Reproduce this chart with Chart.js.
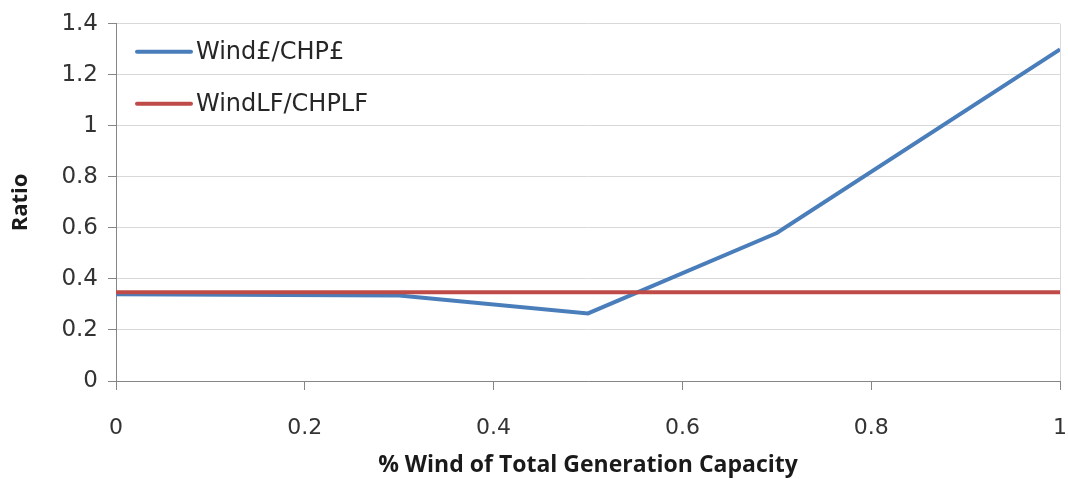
<!DOCTYPE html>
<html>
<head>
<meta charset="utf-8">
<script src="https://cdn.jsdelivr.net/npm/chart.js@4/dist/chart.umd.min.js"></script>
<style>
html,body{margin:0;padding:0;background:#fff}
#wrap{width:1068px;height:479px;position:relative}
</style>
</head>
<body>
<div id="wrap"><canvas id="c"></canvas></div>
<script>
// data
const windShare=[0,0.3,0.5,0.7,1];
const windCostRatio=[0.34,0.335,0.265,0.58,1.3];
const lfShare=[0,1];
const lfRatio=[0.348,0.348];
const seriesNames=['Wind£/CHP£','WindLF/CHPLF'];
const seriesColors=['#4a7ebb','#be4b48'];
const xTitle='% Wind of Total Generation Capacity';
const yTitle='Ratio';

const FONT='"DejaVu Sans", sans-serif';
const TFONT='"Open Sans", sans-serif';
const pts=(xs,ys)=>xs.map((x,i)=>({x, y:ys[i]}));
const fmt=v=>String(Number(v.toFixed(1)));

// legend drawn inside the plot area, like the original
const innerLegend={
  id:'innerLegend',
  afterDatasetsDraw(chart){
    const {ctx, chartArea}=chart;
    ctx.save();
    chart.data.datasets.forEach((ds,i)=>{
      const y=chartArea.top+28+i*52;
      const x0=chartArea.left+21;
      ctx.strokeStyle=ds.borderColor; ctx.lineWidth=4; ctx.lineCap='round';
      ctx.beginPath(); ctx.moveTo(x0,y); ctx.lineTo(x0+54,y); ctx.stroke();
      ctx.fillStyle='#262626'; ctx.font='24px '+FONT; ctx.textBaseline='middle';
      ctx.fillText(ds.label, x0+59, y+1);
    });
    ctx.restore();
  }
};

new Chart(document.getElementById('c'), {
  type:'line',
  data:{datasets:[
    {label:seriesNames[0], data:pts(windShare,windCostRatio), borderColor:seriesColors[0], borderWidth:4, pointRadius:0, tension:0, order:2},
    {label:seriesNames[1], data:pts(lfShare,lfRatio), borderColor:seriesColors[1], borderWidth:4, pointRadius:0, tension:0, order:1}
  ]},
  options:{
    responsive:true, maintainAspectRatio:false, animation:false,
    layout:{padding:{left:8, right:0, top:21, bottom:0}},
    plugins:{legend:{display:false}, tooltip:{enabled:false}},
    scales:{
      x:{
        type:'linear', min:0, max:1,
        ticks:{stepSize:0.2, callback:v=>fmt(v), color:'#333', font:{family:FONT, size:22}, padding:25, maxRotation:0},
        grid:{color:c=>c.tick && c.tick.value===1 ? '#d9d9d9' : 'rgba(0,0,0,0)', tickColor:'#868686', tickLength:9, lineWidth:1},
        border:{color:'#868686', width:1},
        title:{display:true, text:xTitle, color:'#1a1a1a', font:{family:TFONT, size:23, weight:'bold'}, padding:{top:0, bottom:0}},
        afterFit(s){ s.height=98; s.paddingRight=8; s.paddingLeft=0; }
      },
      y:{
        min:0, max:1.4,
        ticks:{stepSize:0.2, callback:v=>fmt(v), color:'#333', font:{family:FONT, size:23}, padding:10},
        grid:{color:'#d9d9d9', tickColor:'#868686', tickLength:8, lineWidth:1},
        border:{color:'#868686', width:1},
        title:{display:true, text:yTitle, color:'#1a1a1a', font:{family:TFONT, size:22, weight:'bold'}, padding:{top:0, bottom:0}},
        afterFit(s){ s.width=108; }
      }
    }
  },
  plugins:[innerLegend]
});
</script>
</body>
</html>
